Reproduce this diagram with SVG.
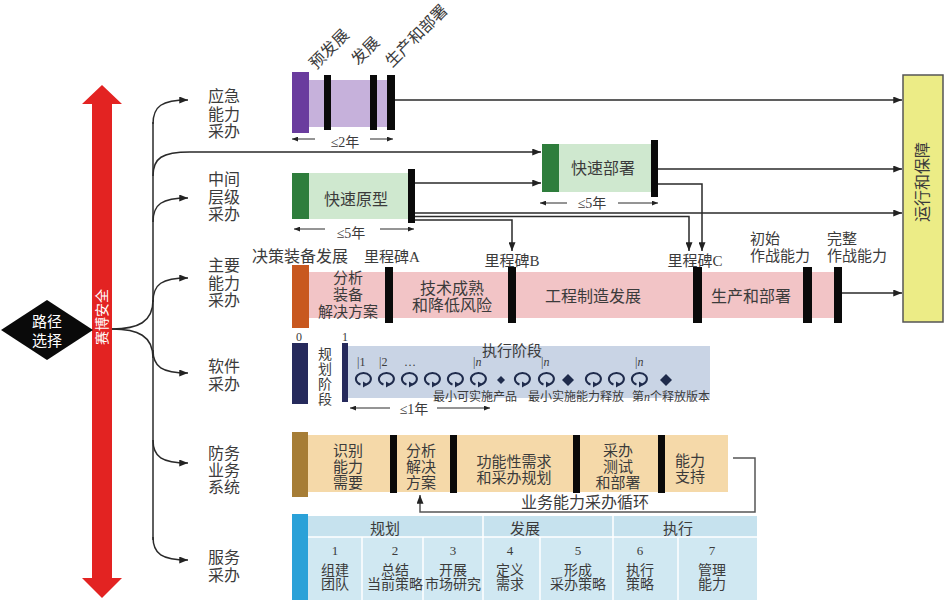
<svg xmlns="http://www.w3.org/2000/svg" width="945" height="604" viewBox="0 0 945 604">
<defs>
<style>
text{font-family:"Liberation Serif","Noto Sans CJK SC",serif;fill:#3b3b3b}
.lb{font-size:16px;text-anchor:middle}
.sg{font-size:15px;text-anchor:middle}
.sm{font-size:12px;text-anchor:middle}
.ln{fill:none;stroke:#2a2a2a;stroke-width:1.5}
.dim{fill:none;stroke:#2a2a2a;stroke-width:1}
.bar{fill:#0a0a0a}
.dv{stroke:#fff;stroke-width:1.5}
</style>
<marker id="ah" viewBox="0 0 10 8" refX="10" refY="4" markerWidth="9" markerHeight="7" markerUnits="userSpaceOnUse" orient="auto"><path d="M0,0 L10,4 L0,8Z" fill="#222"/></marker>
<marker id="as" viewBox="0 0 10 8" refX="10" refY="4" markerWidth="6" markerHeight="5" markerUnits="userSpaceOnUse" orient="auto"><path d="M0,0 L10,4 L0,8Z" fill="#222"/></marker>
<g id="cyc"><path d="M-2.5,5.5 A7.5,6 0 1 1 3,5.6" fill="none" stroke="#1f2b4c" stroke-width="2"/><path d="M0,2.6 L5,5.6 L0,8.4Z" fill="#1f2b4c"/></g>
</defs>
<rect width="945" height="604" fill="#fff"/>

<g id="safety-arrow">
<polygon points="102,85 122,104 112,104 112,578 122,578 102,598 82,578 92,578 92,104 82,104" fill="#e32322"/>
<text font-size="14" text-anchor="middle" transform="translate(107,317) rotate(-90)" style="fill:#fff">赛博安全</text>
</g>

<g id="path-select">
<polygon points="47,300 93,330 47,360 1,330" fill="#0a0a0a"/>
<text class="sg" x="47" y="327" style="fill:#fff">路径</text>
<text class="sg" x="47" y="346" style="fill:#fff">选择</text>
</g>

<g id="cat-labels">
<text class="lb" x="224" y="102">应急</text><text class="lb" x="224" y="119.5">能力</text><text class="lb" x="224" y="137">采办</text>
<text class="lb" x="224" y="185">中间</text><text class="lb" x="224" y="202.5">层级</text><text class="lb" x="224" y="220">采办</text>
<text class="lb" x="224" y="271">主要</text><text class="lb" x="224" y="288.5">能力</text><text class="lb" x="224" y="306">采办</text>
<text class="lb" x="224" y="372">软件</text><text class="lb" x="224" y="390">采办</text>
<text class="lb" x="224" y="459">防务</text><text class="lb" x="224" y="476">业务</text><text class="lb" x="224" y="493">系统</text>
<text class="lb" x="224" y="563">服务</text><text class="lb" x="224" y="581">采办</text>
</g>

<g id="row-urgent">
<rect x="309" y="80" width="82" height="47" fill="#c6b1db"/>
<rect x="292" y="72" width="17" height="61" fill="#6a3c9e"/>
<rect class="bar" x="324" y="75" width="7" height="55"/>
<rect class="bar" x="370" y="75" width="7" height="55"/>
<rect class="bar" x="387" y="75" width="8" height="55"/>
<text font-size="16" transform="translate(316,70) rotate(-45)">预发展</text>
<text font-size="16" transform="translate(358,66) rotate(-45)">发展</text>
<text font-size="16" transform="translate(392,68) rotate(-45)">生产和部署</text>
<text font-size="14" text-anchor="middle" x="345" y="147">≤2年</text>
</g>

<g id="row-mid-proto">
<rect x="309" y="173" width="101" height="46" fill="#cfe8cf"/>
<rect x="292" y="173" width="17" height="46" fill="#2e7d3c"/>
<rect class="bar" x="408" y="169" width="7" height="54"/>
<text class="lb" x="356" y="205">快速原型</text>
<text font-size="14" text-anchor="middle" x="351" y="238">≤5年</text>
</g>

<g id="row-mid-deploy">
<rect x="559" y="144" width="92" height="48" fill="#cfe8cf"/>
<rect x="542" y="144" width="17" height="48" fill="#2e7d3c"/>
<rect class="bar" x="651" y="140" width="7" height="57"/>
<text class="lb" x="603" y="174">快速部署</text>
<text font-size="14" text-anchor="middle" x="592" y="208">≤5年</text>
</g>

<g id="row-major">
<rect x="309" y="272" width="527" height="46" fill="#f2c4c6"/>
<rect x="292" y="265" width="17" height="63" fill="#c8581f"/>
<rect class="bar" x="385" y="267" width="8" height="56"/>
<rect class="bar" x="508" y="267" width="8" height="56"/>
<rect class="bar" x="693" y="267" width="9" height="56"/>
<rect class="bar" x="803" y="267" width="9" height="56"/>
<rect class="bar" x="834" y="267" width="8" height="56"/>
<text class="lb" x="300" y="262">决策装备发展</text>
<text class="sg" x="392" y="262">里程碑A</text>
<text class="sg" x="512" y="266">里程碑B</text>
<text class="sg" x="695" y="266">里程碑C</text>
<text font-size="15" x="750" y="244">初始</text><text font-size="15" x="750" y="261">作战能力</text>
<text font-size="15" x="827" y="244">完整</text><text font-size="15" x="827" y="261">作战能力</text>
<text class="sg" x="348" y="283">分析</text><text class="sg" x="348" y="300">装备</text><text class="sg" x="348" y="317">解决方案</text>
<text class="lb" x="452" y="294">技术成熟</text><text class="lb" x="452" y="311">和降低风险</text>
<text class="lb" x="593" y="302">工程制造发展</text>
<text class="lb" x="751" y="302">生产和部署</text>
</g>

<g id="row-software">
<rect x="348" y="346" width="362" height="52" fill="#c9d4e5"/>
<rect x="292" y="343" width="16" height="61" fill="#262a5c"/>
<rect x="342" y="343" width="6" height="59" fill="#262a5c"/>
<text class="sm" x="299" y="341">0</text>
<text class="sm" x="345" y="341">1</text>
<text font-size="14" text-anchor="middle" x="325" y="359">规</text>
<text font-size="14" text-anchor="middle" x="325" y="374">划</text>
<text font-size="14" text-anchor="middle" x="325" y="389">阶</text>
<text font-size="14" text-anchor="middle" x="325" y="404">段</text>
<text class="sg" x="512" y="356">执行阶段</text>
<text font-size="12" x="357" y="366">|1</text>
<text font-size="12" x="379" y="366">|2</text>
<text font-size="12" x="404" y="366">…</text>
<text font-size="12" x="473" y="366">|<tspan font-style="italic">n</tspan></text>
<text font-size="12" x="541" y="366">|<tspan font-style="italic">n</tspan></text>
<text font-size="12" x="635" y="366">|<tspan font-style="italic">n</tspan></text>
<use href="#cyc" x="363" y="379"/>
<use href="#cyc" x="386" y="379"/>
<use href="#cyc" x="409" y="379"/>
<use href="#cyc" x="432" y="379"/>
<use href="#cyc" x="455" y="379"/>
<use href="#cyc" x="478" y="379"/>
<polygon points="501,376 505,380 501,384 497,380" fill="#1f2b4c"/>
<use href="#cyc" x="522" y="379"/>
<use href="#cyc" x="546" y="379"/>
<polygon points="568,374 574,380 568,386 562,380" fill="#1f2b4c"/>
<use href="#cyc" x="593" y="379"/>
<use href="#cyc" x="616" y="379"/>
<use href="#cyc" x="639" y="379"/>
<polygon points="666,374 672,380 666,386 660,380" fill="#1f2b4c"/>
<text class="sm" x="475" y="401">最小可实施产品</text>
<text class="sm" x="576" y="401">最小实施能力释放</text>
<text class="sm" x="671" y="401">第<tspan font-style="italic">n</tspan>个释放版本</text>
<text font-size="14" text-anchor="middle" x="414" y="414">≤1年</text>
</g>

<g id="row-defense">
<rect x="308" y="435" width="420" height="57" fill="#f5d9a9"/>
<rect x="292" y="432" width="16" height="65" fill="#a67d36"/>
<rect class="bar" x="390" y="435" width="7" height="58"/>
<rect class="bar" x="450" y="435" width="7" height="58"/>
<rect class="bar" x="573" y="435" width="7" height="58"/>
<rect class="bar" x="658" y="435" width="7" height="58"/>
<text class="sg" x="348" y="456">识别</text><text class="sg" x="348" y="472">能力</text><text class="sg" x="348" y="488">需要</text>
<text class="sg" x="421" y="456">分析</text><text class="sg" x="421" y="472">解决</text><text class="sg" x="421" y="488">方案</text>
<text class="sg" x="514" y="467">功能性需求</text><text class="sg" x="514" y="483">和采办规划</text>
<text class="sg" x="618" y="456">采办</text><text class="sg" x="618" y="472">测试</text><text class="sg" x="618" y="488">和部署</text>
<text class="sg" x="690" y="466">能力</text><text class="sg" x="690" y="482">支持</text>
<text class="lb" x="585" y="508">业务能力采办循环</text>
</g>

<g id="row-service">
<rect x="308" y="516" width="449" height="84" fill="#d0e8f2"/>
<rect x="308" y="516" width="449" height="21" fill="#c6e2ee"/>
<rect x="292" y="514" width="16" height="86" fill="#2aa1d8"/>
<line class="dv" x1="308" y1="537" x2="757" y2="537"/>
<line class="dv" x1="483" y1="516" x2="483" y2="600"/>
<line class="dv" x1="613" y1="516" x2="613" y2="600"/>
<line class="dv" x1="362" y1="537" x2="362" y2="600"/>
<line class="dv" x1="423" y1="537" x2="423" y2="600"/>
<line class="dv" x1="540" y1="537" x2="540" y2="600"/>
<line class="dv" x1="678" y1="537" x2="678" y2="600"/>
<text class="sg" x="385" y="534">规划</text>
<text class="sg" x="525" y="534">发展</text>
<text class="sg" x="678" y="534">执行</text>
<text font-size="13" text-anchor="middle" x="335" y="555">1</text>
<text font-size="13" text-anchor="middle" x="395" y="555">2</text>
<text font-size="13" text-anchor="middle" x="453" y="555">3</text>
<text font-size="13" text-anchor="middle" x="510" y="555">4</text>
<text font-size="13" text-anchor="middle" x="578" y="555">5</text>
<text font-size="13" text-anchor="middle" x="640" y="555">6</text>
<text font-size="13" text-anchor="middle" x="712" y="555">7</text>
<g font-size="14" text-anchor="middle">
<text x="335" y="575">组建</text><text x="335" y="589">团队</text>
<text x="395" y="575">总结</text><text x="395" y="589">当前策略</text>
<text x="453" y="575">开展</text><text x="453" y="589">市场研究</text>
<text x="510" y="575">定义</text><text x="510" y="589">需求</text>
<text x="578" y="575">形成</text><text x="578" y="589">采办策略</text>
<text x="640" y="575">执行</text><text x="640" y="589">策略</text>
<text x="712" y="575">管理</text><text x="712" y="589">能力</text>
</g>
</g>

<g id="ops">
<rect x="903" y="75" width="40" height="247" fill="#ecec86" stroke="#555" stroke-width="1.5"/>
<text class="lb" transform="translate(928,182) rotate(-90)">运行和保障</text>
</g>

<g id="connectors">
<path class="ln" d="M112,329 C138,329 153,322 153,300"/>
<path class="ln" d="M112,329 C138,329 153,336 153,358"/>
<path class="ln" d="M153,122 L153,540"/>
<path class="ln" d="M153,124 C153,106 162,100 188,100" marker-end="url(#ah)"/>
<path class="ln" d="M153,176 C153,158 162,152 190,152 L541,152" marker-end="url(#ah)"/>
<path class="ln" d="M153,222 C153,204 162,198 188,198" marker-end="url(#ah)"/>
<path class="ln" d="M153,302 C153,284 162,278 188,278" marker-end="url(#ah)"/>
<path class="ln" d="M153,350 C153,367 162,373 188,373" marker-end="url(#ah)"/>
<path class="ln" d="M153,440 C153,457 162,463 188,463" marker-end="url(#ah)"/>
<path class="ln" d="M153,537 C153,554 162,560 188,560" marker-end="url(#ah)"/>
<path class="ln" d="M395,100 L902,100" marker-end="url(#ah)"/>
<path class="ln" d="M415,183 L541,183" marker-end="url(#ah)"/>
<path class="ln" d="M415,213 L902,213" marker-end="url(#ah)"/>
<path class="ln" d="M415,216.5 L689,216.5 L689,251" marker-end="url(#ah)"/>
<path class="ln" d="M415,220 L512,220 L512,251" marker-end="url(#ah)"/>
<path class="ln" d="M658,169 L902,169" marker-end="url(#ah)"/>
<path class="ln" d="M658,184 L702,184 L702,251" marker-end="url(#ah)"/>
<path class="ln" d="M842,293 L902,293" marker-end="url(#ah)"/>
<path class="ln" d="M733,458 L755,458 L755,512 L420,512 L420,495" marker-end="url(#ah)" style="stroke:#555"/>
<path class="dim" d="M315,139 L292,139" marker-end="url(#as)"/>
<path class="dim" d="M370,139 L393,139" marker-end="url(#as)"/>
<path class="dim" d="M325,229 L294,229" marker-end="url(#as)"/>
<path class="dim" d="M380,229 L414,229" marker-end="url(#as)"/>
<path class="dim" d="M567,203 L540,203" marker-end="url(#as)"/>
<path class="dim" d="M618,203 L658,203" marker-end="url(#as)"/>
<path class="dim" d="M390,408 L350,408" marker-end="url(#as)"/>
<path class="dim" d="M437,408 L490,408" marker-end="url(#as)"/>
</g>
</svg>
